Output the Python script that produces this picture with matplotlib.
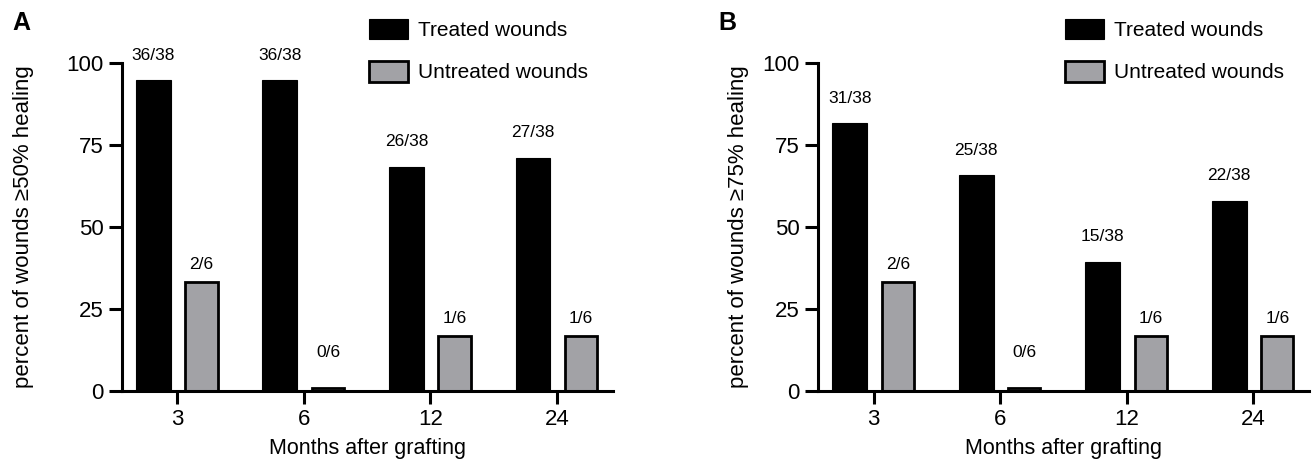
import numpy as np
import matplotlib
matplotlib.use("Agg")
import matplotlib.pyplot as plt

# ============================================================
# DATA
# ============================================================
MONTHS = ["3", "6", "12", "24"]

# panel A: >=50% healing, panel B: >=75% healing
TREATED_A = ["36/38", "36/38", "26/38", "27/38"]
UNTREATED_A = ["2/6", "0/6", "1/6", "1/6"]
TREATED_B = ["31/38", "25/38", "15/38", "22/38"]
UNTREATED_B = ["2/6", "0/6", "1/6", "1/6"]

YLABEL_A = "percent of wounds \u226550% healing"
YLABEL_B = "percent of wounds \u226575% healing"
XLABEL = "Months after grafting"
LEGEND_LABELS = ["Treated wounds", "Untreated wounds"]
Y_TICKS = [0, 25, 50, 75, 100]

# ============================================================
# STYLE
# ============================================================
W, H = 1314, 466
DPI = 100
GREY = "#a2a2a6"
BAR_W = 0.275
OFFSET = 0.19
MIN_VISIBLE = 0.8   # GraphPad draws empty bars as a thin line

plt.rcParams["font.family"] = ["Liberation Sans", "DejaVu Sans"]


def to_pct(fracs):
    out = []
    for f in fracs:
        a, b = f.split("/")
        out.append(100.0 * int(a) / int(b))
    return np.array(out)


def draw_panel(ax, treated, untreated, ylabel, label_x):
    x = np.arange(len(MONTHS))
    tv = to_pct(treated)
    uv = to_pct(untreated)

    ax.bar(x - OFFSET, tv, width=BAR_W, color="black", edgecolor="black",
           linewidth=0.8, label=LEGEND_LABELS[0], zorder=2)
    ax.bar(x + OFFSET, np.maximum(uv, MIN_VISIBLE), width=BAR_W - 0.02,
           color=GREY, edgecolor="black", linewidth=2.0,
           label=LEGEND_LABELS[1], zorder=2)

    for xi, v, s in zip(x, tv, treated):
        ax.text(xi - OFFSET, v + 6.3, s, ha="center", va="baseline", fontsize=12.5)
    for xi, v, s in zip(x, uv, untreated):
        ax.text(xi + OFFSET, max(v, 6.5) + 4.0, s, ha="center", va="baseline",
                fontsize=12.5)

    ax.set_xlim(-0.44, len(MONTHS) - 1 + 0.44)
    ax.set_ylim(0, 100)
    ax.set_xticks(x)
    ax.set_xticklabels(MONTHS)
    ax.set_yticks(Y_TICKS)

    for side in ["top", "right"]:
        ax.spines[side].set_visible(False)
    for side in ["left", "bottom"]:
        ax.spines[side].set_linewidth(2.2)
    ax.tick_params(axis="both", direction="out", length=9.5, width=2.2,
                   labelsize=16, pad=3.5)

    ax.set_ylabel(ylabel, fontsize=16, va="center", ha="center")
    ax.yaxis.set_label_coords(label_x, 0.5)
    ax.set_xlabel(XLABEL, fontsize=15.5, labelpad=6)

    ax.legend(loc="upper left", bbox_to_anchor=(0.503, 1.135), frameon=False,
              fontsize=15, handlelength=1.875, handleheight=1.15,
              handletextpad=0.5, labelspacing=1.0, borderpad=0,
              borderaxespad=0)


def main():
    fig = plt.figure(figsize=(W / DPI, H / DPI), dpi=DPI)

    bottom = (H - 391) / H
    height = 328 / H
    width = 491 / W

    ax_a = fig.add_axes([121.7 / W, bottom, width, height])
    ax_b = fig.add_axes([818 / W, bottom, width, height])

    draw_panel(ax_a, TREATED_A, UNTREATED_A, YLABEL_A, -0.201)
    draw_panel(ax_b, TREATED_B, UNTREATED_B, YLABEL_B, -0.161)

    fig.text(12 / W, 1 - 30 / H, "A", fontsize=18, fontweight="bold",
             ha="left", va="baseline")
    fig.text(718 / W, 1 - 30 / H, "B", fontsize=18, fontweight="bold",
             ha="left", va="baseline")

    fig.savefig("out.png", dpi=DPI)
    plt.close(fig)


if __name__ == "__main__":
    main()
